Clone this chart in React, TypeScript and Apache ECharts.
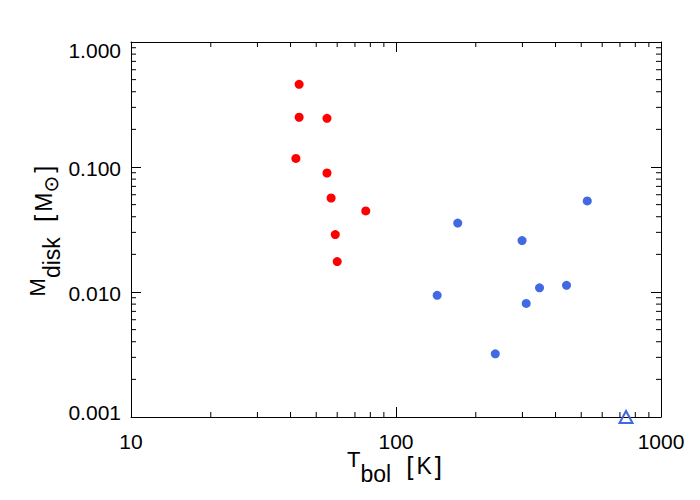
import React, { useEffect, useRef } from 'react';
import * as echarts from 'echarts';

// Red (cold) sources
const redTbol = [43.1, 43.1, 54.9, 41.9, 54.9, 56.9, 59.0, 60.0, 76.9];
const redMdisk = [0.459, 0.25, 0.245, 0.117, 0.0895, 0.0565, 0.0288, 0.0175, 0.0445];
// Blue (warmer) sources
const blueTbol = [527, 171, 299, 143, 348, 440, 310, 237];
const blueMdisk = [0.0535, 0.0356, 0.0258, 0.0094, 0.0108, 0.0113, 0.0081, 0.0032];
// Upper limit (open triangle)
const limitTbol = [738];
const limitMdisk = [0.001];

const xMin = 10;
const xMax = 1000;
const yMin = 0.001;
const yMax = 1;
const xDecades = [10, 100];
const yDecades = [0.001, 0.01, 0.1];
const minorMultipliers = [2, 3, 4, 5, 6, 7, 8, 9];

const FONT = 'Liberation Sans';
const BLUE = '#4169e1';
const RED = '#ff0000';

const xMinor: number[][] = [];
xDecades.forEach((d) => minorMultipliers.forEach((m) => xMinor.push([d * m, 1])));
const yMinor: number[][] = [];
yDecades.forEach((d) => minorMultipliers.forEach((m) => yMinor.push([10, +(d * m).toPrecision(3)])));

const zip = (a: number[], b: number[]) => a.map((v, i) => [v, b[i]]);

const axisBase = {
  type: 'log' as const,
  logBase: 10,
  axisLine: { show: true, onZero: false, lineStyle: { color: '#000', width: 1 } },
  axisTick: { show: true, inside: true, length: 10, lineStyle: { color: '#000', width: 1 } },
  splitLine: { show: false },
  minorTick: { show: false },
};

const titleRich = {
  m: { fontFamily: FONT, fontSize: 22, lineHeight: 14, verticalAlign: 'top', color: '#000' },
  s: { fontFamily: FONT, fontSize: 23, lineHeight: 14, padding: [14, 0, 0, 0], verticalAlign: 'top', color: '#000' },
  k: { fontFamily: FONT, fontSize: 23, lineHeight: 14, padding: [6, 0, 0, 0], verticalAlign: 'top', color: '#000' },
  o: { fontFamily: 'DejaVu Sans', fontSize: 20, lineHeight: 14, padding: [15, 0, 0, 0], verticalAlign: 'top', color: '#000' },
  g: { fontFamily: FONT, fontSize: 22, lineHeight: 14, verticalAlign: 'top', color: '#000' },
  b: { fontFamily: FONT, fontSize: 26, lineHeight: 16, padding: [5, 3, 0, 3], verticalAlign: 'top', color: '#000' },
};

export default function App() {
  const ref = useRef<HTMLDivElement>(null);
  useEffect(() => {
    if (!ref.current) return;
    const chart = echarts.init(ref.current, undefined, { renderer: 'svg' });
    const tickStyle = { stroke: '#000', lineWidth: 1 };
    const option = {
      animation: false,
      backgroundColor: '#fff',
      grid: { left: 131, right: 39, top: 42, bottom: 83 },
      xAxis: [
        {
          ...axisBase,
          position: 'bottom',
          min: xMin,
          max: xMax,
          axisLabel: {
            show: true,
            fontFamily: FONT,
            fontSize: 21,
            lineHeight: 13,
            color: '#000',
            margin: 18,
            formatter: (v: number) => String(Math.round(v)),
          },
          name: '{m|T}{s|bol}{g|  }{b|[}{k|K}{b|]}',
          nameLocation: 'middle',
          nameGap: 31,
          nameMoveOverlap: false,
          nameTextStyle: { rich: titleRich },
        },
        {
          ...axisBase,
          position: 'top',
          min: xMin,
          max: xMax,
          axisLabel: { show: false },
        },
      ],
      yAxis: [
        {
          ...axisBase,
          position: 'left',
          min: yMin,
          max: yMax,
          axisLabel: {
            show: true,
            margin: 10,
            fontFamily: FONT,
            fontSize: 21,
            color: '#000',
            formatter: (v: number) => {
              const s = v.toFixed(3);
              if (Math.abs(v - yMax) < 1e-9) return '{t|' + s + '}';
              if (Math.abs(v - yMin) < 1e-12) return '{u|' + s + '}';
              return '{n|' + s + '}';
            },
            rich: {
              n: { fontFamily: FONT, fontSize: 21, color: '#000', padding: [3, 0, 0, 0] },
              t: { fontFamily: FONT, fontSize: 21, color: '#000', padding: [16, 0, 0, 0] },
              u: { fontFamily: FONT, fontSize: 21, color: '#000', padding: [0, 0, 10, 0] },
            },
          },
          name: '{m|M}{s|disk}{g|  }{b|[}{k|M}{o|⊙}{b|]}',
          nameLocation: 'middle',
          nameRotate: 90,
          nameGap: 89,
          nameMoveOverlap: false,
          nameTextStyle: { rich: titleRich },
        },
        {
          ...axisBase,
          position: 'right',
          min: yMin,
          max: yMax,
          axisLabel: { show: false },
        },
      ],
      series: [
        {
          type: 'custom',
          name: 'xMinorTicks',
          xAxisIndex: 0,
          yAxisIndex: 0,
          clip: false,
          silent: true,
          data: xMinor,
          renderItem: (params: any, api: any) => {
            const cs = params.coordSys;
            const p = api.coord([api.value(0), api.value(1)]);
            const x = p[0];
            const b = cs.y + cs.height;
            const t = cs.y;
            return {
              type: 'group',
              children: [
                { type: 'line', shape: { x1: x, y1: b, x2: x, y2: b - 5 }, style: tickStyle },
                { type: 'line', shape: { x1: x, y1: t, x2: x, y2: t + 5 }, style: tickStyle },
              ],
            };
          },
        },
        {
          type: 'custom',
          name: 'yMinorTicks',
          xAxisIndex: 0,
          yAxisIndex: 0,
          clip: false,
          silent: true,
          data: yMinor,
          renderItem: (params: any, api: any) => {
            const cs = params.coordSys;
            const p = api.coord([api.value(0), api.value(1)]);
            const y = p[1];
            const l = cs.x;
            const r = cs.x + cs.width;
            return {
              type: 'group',
              children: [
                { type: 'line', shape: { x1: l, y1: y, x2: l + 5, y2: y }, style: tickStyle },
                { type: 'line', shape: { x1: r, y1: y, x2: r - 5, y2: y }, style: tickStyle },
              ],
            };
          },
        },
        {
          type: 'scatter',
          name: 'red',
          symbol: 'circle',
          symbolSize: 9,
          itemStyle: { color: RED, opacity: 1 },
          data: zip(redTbol, redMdisk),
        },
        {
          type: 'scatter',
          name: 'blue',
          symbol: 'circle',
          symbolSize: 9,
          itemStyle: { color: BLUE, opacity: 1 },
          data: zip(blueTbol, blueMdisk),
        },
        {
          type: 'scatter',
          name: 'limit',
          symbol: 'triangle',
          symbolSize: [13, 12],
          clip: false,
          itemStyle: { color: 'rgba(0,0,0,0)', borderColor: BLUE, borderWidth: 2, opacity: 1 },
          data: zip(limitTbol, limitMdisk),
        },
      ],
    };
    chart.setOption(option as any);
    return () => chart.dispose();
  }, []);
  return <div ref={ref} style={{ position: 'fixed', left: 0, top: 0, width: 700, height: 500 }} />;
}
